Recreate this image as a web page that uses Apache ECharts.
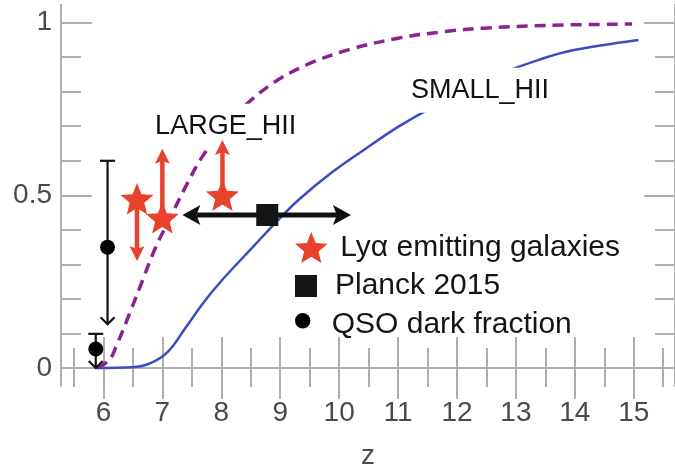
<!DOCTYPE html>
<html>
<head>
<meta charset="utf-8">
<title>Neutral fraction vs redshift</title>
<script src="https://cdn.jsdelivr.net/npm/echarts@6/dist/echarts.min.js"></script>
<style>
  html, body { margin: 0; padding: 0; background: #fff; overflow: hidden; }
  #chart { width: 675px; height: 475px; }
</style>
</head>
<body>
<div id="chart"></div>
<script>
// Reionization histories: neutral fraction x_HI against redshift z
const smallHII = [
  [5.88, 0.0], [6.48, 0.002], [6.8, 0.014], [7.1, 0.048], [7.4, 0.118],
  [7.7, 0.19], [8.0, 0.252], [8.55, 0.353], [8.94, 0.424], [9.3, 0.485],
  [9.89, 0.568], [10.45, 0.635], [11.0, 0.698], [11.57, 0.754], [12.2, 0.808],
  [12.74, 0.852], [13.4, 0.893], [13.96, 0.92], [15.08, 0.950]
];
const largeHII = [
  [5.9, 0.0], [6.1, 0.023], [6.21, 0.06], [6.44, 0.156], [6.66, 0.252],
  [6.88, 0.347], [7.1, 0.424], [7.38, 0.52], [7.66, 0.607], [8.0, 0.685],
  [8.33, 0.749], [8.89, 0.826], [9.45, 0.878], [10.17, 0.922], [11.0, 0.955],
  [11.79, 0.974], [12.46, 0.984], [13.5, 0.992], [14.97, 0.996]
];

// Lyman-alpha emitter constraints: star position and limit-arrow tip
const lyaZ = [6.57, 7.0, 8.02];
const lyaXHI = [0.49, 0.435, 0.50];
const lyaLimit = [0.31, 0.635, 0.66];

// Planck 2015 point with its redshift range
const planckZ = [8.78];
const planckXHI = [0.443];
const planckZLow = [7.34];
const planckZHigh = [10.2];

// QSO dark-fraction points: value, upper cap, lower arrow tip
const qsoZ = [5.87, 6.07];
const qsoXHI = [0.055, 0.35];
const qsoUpper = [0.099, 0.60];
const qsoLower = [0.0, 0.127];

// Axis ticks
const zMajorTicks = [6, 7, 8, 9, 10, 11, 12, 13, 14, 15];
const zMinorTicks = [5.5, 6.5, 7.5, 8.5, 9.5, 10.5, 11.5, 12.5, 13.5, 14.5, 15.5];
const xhiMajorTicks = [0, 0.5, 1];
const xhiMinorTicks = [0.1, 0.2, 0.3, 0.4, 0.6, 0.7, 0.8, 0.9];

const Z_MIN = 5.28, Z_MAX = 15.7;
const X_MIN = -0.052, X_MAX = 1.051;

const RED = '#e8412c';
const BLUE = '#3b4cc0';
const PURPLE = '#8c2292';
const AXIS_GRAY = '#b0b0b0';
const FONT = 'Liberation Sans, Arial, Helvetica, sans-serif';
const STAR = 'path://M50,0L62.9,32.2L97.55,34.55L70.9,56.8L79.4,90.45L50,72L20.6,90.45L29.1,56.8L2.45,34.55L37.1,32.2Z';
// Circle icon with empty room underneath, so it sits a little above the text middle
const DOT_ICON = 'path://M0,5A5,5 0 1,1 10,5A5,5 0 1,1 0,5ZM5,15.6L5,15.6';

function xAxisDef(position, ticks, len, withLabels) {
  return {
    type: 'value', position: position, min: Z_MIN, max: Z_MAX,
    axisLine: { show: withLabels !== null, lineStyle: { color: AXIS_GRAY, width: 2 } },
    axisTick: { show: true, inside: true, length: len, customValues: ticks,
                lineStyle: { color: AXIS_GRAY, width: 2 } },
    axisLabel: withLabels ? { show: true, customValues: ticks, fontSize: 28, color: '#4a4a4a',
                              fontFamily: FONT, margin: 13 } : { show: false },
    splitLine: { show: false }
  };
}
function yAxisDef(position, ticks, len, withLabels) {
  return {
    type: 'value', position: position, min: X_MIN, max: X_MAX,
    axisLine: { show: withLabels !== null, lineStyle: { color: AXIS_GRAY, width: 2 } },
    axisTick: { show: true, inside: true, length: len, customValues: ticks,
                lineStyle: { color: AXIS_GRAY, width: 2 } },
    axisLabel: withLabels ? { show: true, customValues: ticks, fontSize: 28, color: '#4a4a4a',
                              fontFamily: FONT, margin: 9 } : { show: false },
    splitLine: { show: false }
  };
}

// Vertical limit arrow from the star to its tip
function renderLyaArrow(params, api) {
  const p0 = api.coord([api.value(0), api.value(1)]);
  const p1 = api.coord([api.value(0), api.value(2)]);
  const dir = p1[1] < p0[1] ? -1 : 1;
  const head = 15, half = 7.5;
  const back = p1[1] - dir * head;
  const notch = p1[1] - dir * head * 0.8;
  return {
    type: 'group',
    children: [
      { type: 'line', shape: { x1: p0[0], y1: p0[1], x2: p1[0], y2: notch },
        style: { stroke: RED, lineWidth: 4.5 } },
      { type: 'polygon',
        shape: { points: [[p1[0], p1[1]], [p1[0] + half, back], [p1[0], notch], [p1[0] - half, back]] },
        style: { fill: RED } }
    ]
  };
}

// Horizontal double arrow spanning the Planck redshift range
function renderPlanckArrow(params, api) {
  const y = api.coord([api.value(0), api.value(1)])[1];
  const xl = api.coord([api.value(2), api.value(1)])[0];
  const xr = api.coord([api.value(3), api.value(1)])[0];
  const head = 18, half = 10, notch = 14;
  const ink = '#111';
  return {
    type: 'group',
    children: [
      { type: 'line', shape: { x1: xl + notch, y1: y, x2: xr - notch, y2: y },
        style: { stroke: ink, lineWidth: 5 } },
      { type: 'polygon',
        shape: { points: [[xl, y], [xl + head, y - half], [xl + notch, y], [xl + head, y + half]] },
        style: { fill: ink } },
      { type: 'polygon',
        shape: { points: [[xr, y], [xr - head, y - half], [xr - notch, y], [xr - head, y + half]] },
        style: { fill: ink } }
    ]
  };
}

// QSO error bar: cap on top, open arrow head at the bottom
function renderQsoBar(params, api) {
  const top = api.coord([api.value(0), api.value(2)]);
  const bot = api.coord([api.value(0), api.value(3)]);
  const ink = '#111';
  return {
    type: 'group',
    children: [
      { type: 'line', shape: { x1: top[0], y1: top[1], x2: bot[0], y2: bot[1] },
        style: { stroke: ink, lineWidth: 2.2 } },
      { type: 'line', shape: { x1: top[0] - 7.5, y1: top[1], x2: top[0] + 7.5, y2: top[1] },
        style: { stroke: ink, lineWidth: 2.2 } },
      { type: 'polyline', shape: { points: [[bot[0] - 7, bot[1] - 7], [bot[0], bot[1]], [bot[0] + 7, bot[1] - 7]] },
        style: { stroke: ink, lineWidth: 2.2, fill: null } }
    ]
  };
}

function curveLabel(text, z, x) {
  return {
    symbol: 'circle', symbolSize: 0, z: 2.5, silent: true,
    label: { show: true, position: 'inside', formatter: '{b}', fontSize: 27, color: '#111',
             fontFamily: FONT, backgroundColor: '#fff', padding: [9, 3] },
    data: [{ name: text, coord: [z, x] }]
  };
}

const legendText = { fontSize: 30, color: '#151515', fontFamily: FONT };

const option = {
  animation: false,
  backgroundColor: '#fff',
  grid: { left: 61, right: -9, top: 5, bottom: 86, containLabel: false },
  xAxis: [
    Object.assign(xAxisDef('bottom', zMajorTicks, 31, true), {
      name: 'z', nameLocation: 'middle', nameGap: 56,
      nameTextStyle: { fontSize: 28, color: '#4a4a4a', fontFamily: FONT }
    }),
    xAxisDef('bottom', zMinorTicks, 20, false),
    xAxisDef('top', zMajorTicks, 31, false),
    xAxisDef('top', zMinorTicks, 19, false)
  ],
  yAxis: [
    yAxisDef('left', xhiMajorTicks, 31, true),
    yAxisDef('left', xhiMinorTicks, 20, false),
    yAxisDef('right', xhiMajorTicks, 31, false),
    yAxisDef('right', xhiMinorTicks, 20, false)
  ],
  legend: [
    { left: 290, top: 227, itemWidth: 48, itemHeight: 31, selectedMode: false, textStyle: legendText,
      data: [{ name: 'Lyα emitting galaxies', icon: STAR }] },
    { left: 290, top: 266, itemWidth: 48, itemHeight: 22, selectedMode: false, textStyle: legendText,
      data: [{ name: 'Planck 2015', icon: 'path://M0,0H10V10H0Z' }] },
    { left: 290, top: 305, itemWidth: 48, itemHeight: 24, selectedMode: false, textStyle: legendText,
      data: [{ name: 'QSO dark fraction', icon: DOT_ICON }] }
  ],
  series: [
    {
      name: 'SMALL_HII', type: 'line', data: smallHII, smooth: 0.35,
      showSymbol: false, z: 2,
      lineStyle: { color: BLUE, width: 2.5 }, itemStyle: { color: BLUE },
      markPoint: curveLabel('SMALL_HII', 12.39, 0.804)
    },
    {
      name: 'LARGE_HII', type: 'line', data: largeHII, smooth: 0.35,
      showSymbol: false, z: 2,
      lineStyle: { color: PURPLE, width: 3.5, type: [11, 7] }, itemStyle: { color: PURPLE },
      markPoint: curveLabel('LARGE_HII', 8.074, 0.70)
    },
    {
      name: 'Lyα limits', type: 'custom', z: 3, silent: true,
      data: lyaZ.map((z, i) => [z, lyaXHI[i], lyaLimit[i]]),
      encode: { x: 0, y: [1, 2] }, renderItem: renderLyaArrow
    },
    {
      name: 'Planck range', type: 'custom', z: 3, silent: true,
      data: planckZ.map((z, i) => [z, planckXHI[i], planckZLow[i], planckZHigh[i]]),
      encode: { x: [0, 2, 3], y: 1 }, renderItem: renderPlanckArrow
    },
    {
      name: 'QSO bars', type: 'custom', z: 3, silent: true,
      data: qsoZ.map((z, i) => [z, qsoXHI[i], qsoUpper[i], qsoLower[i]]),
      encode: { x: 0, y: [1, 2, 3] }, renderItem: renderQsoBar
    },
    {
      name: 'Lyα emitting galaxies', type: 'scatter', z: 4, symbol: STAR, symbolSize: 33,
      symbolKeepAspect: true, itemStyle: { color: RED, opacity: 1 },
      data: lyaZ.map((z, i) => [z, lyaXHI[i]])
    },
    {
      name: 'Planck 2015', type: 'scatter', z: 4, symbol: 'rect', symbolSize: 22,
      itemStyle: { color: '#151515', opacity: 1 },
      data: planckZ.map((z, i) => [z, planckXHI[i]])
    },
    {
      name: 'QSO dark fraction', type: 'scatter', z: 4, symbol: 'circle', symbolSize: 15,
      itemStyle: { color: '#000', opacity: 1 },
      data: qsoZ.map((z, i) => [z, qsoXHI[i]])
    }
  ]
};

const chart = echarts.init(document.getElementById('chart'), null, { renderer: 'canvas' });
chart.setOption(option);
</script>
</body>
</html>
